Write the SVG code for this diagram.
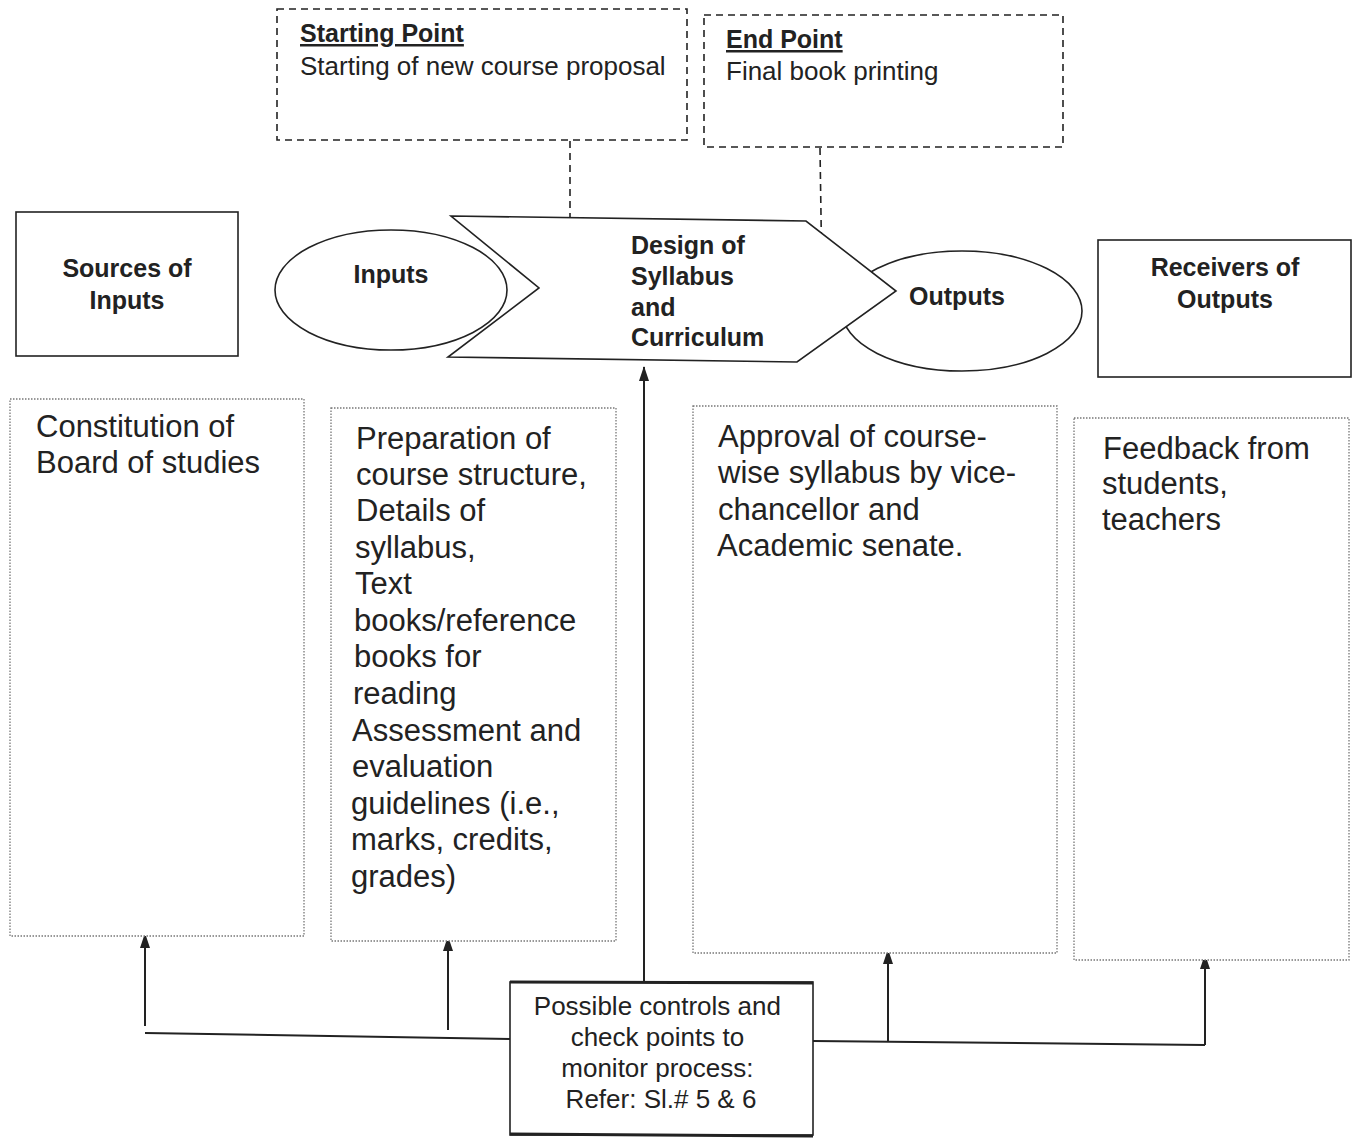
<svg xmlns="http://www.w3.org/2000/svg" width="1357" height="1138" viewBox="0 0 1357 1138">
<defs>
<style>
.dash{fill:none;stroke:#222;stroke-width:1.6;stroke-dasharray:7 5}
.dot{fill:#fff;stroke:#777;stroke-width:1.3;stroke-dasharray:1.5 1.5}
.solid{fill:#fff;stroke:#222;stroke-width:1.6}
.ln{fill:none;stroke:#222;stroke-width:2}
.arr{fill:none;stroke:#222;stroke-width:2;marker-end:url(#ah)}
.t{font-family:"Liberation Sans",Arial,sans-serif;fill:#222}
.b{font-weight:bold}
.big{font-size:31px}
.mid{font-size:25px}
.top{font-size:26px}
</style>
<marker id="ah" viewBox="0 0 15 10" refX="14" refY="5" markerWidth="15" markerHeight="10" orient="auto" markerUnits="userSpaceOnUse">
<path d="M0,0 L15,5 L0,10 z" fill="#222"/>
</marker>
</defs>
<rect width="1357" height="1138" fill="#fff"/>

<g id="connectors">
<line class="dash" x1="570" y1="141" x2="570" y2="272"/>
<line class="dash" x1="820" y1="148" x2="822" y2="282"/>
<line class="arr" x1="644" y1="982" x2="644" y2="367"/>
<polyline class="ln" points="145,1033 510,1039"/>
<polyline class="ln" points="813,1041 1205,1045"/>
<line class="arr" x1="145" y1="1026" x2="145" y2="934"/>
<line class="arr" x1="448" y1="1030" x2="448" y2="937"/>
<line class="arr" x1="888" y1="1042" x2="888" y2="950"/>
<line class="arr" x1="1205" y1="1045" x2="1205" y2="955"/>
</g>

<g id="start-point">
<rect class="dash" x="277" y="9" width="410" height="131"/>
<text class="t b mid" x="300" y="42" text-decoration="underline">Starting Point</text>
<text class="t top" x="300" y="75">Starting of new course proposal</text>
</g>

<g id="end-point">
<rect class="dash" x="704" y="15" width="359" height="132"/>
<text class="t b mid" x="726" y="48" text-decoration="underline">End Point</text>
<text class="t top" x="726" y="80">Final book printing</text>
</g>

<g id="sources-of-inputs">
<rect class="solid" x="16" y="212" width="222" height="144"/>
<text class="t b mid" x="127" y="277" text-anchor="middle">Sources of</text>
<text class="t b mid" x="127" y="309" text-anchor="middle">Inputs</text>
</g>

<g id="outputs">
<ellipse class="solid" cx="962" cy="311" rx="120" ry="60"/>
<text class="t b mid" x="957" y="305" text-anchor="middle">Outputs</text>
</g>

<g id="design">
<polygon class="solid" points="451,216 806,221 896,291 797,362 448,357 539,288"/>
<text class="t b mid" x="631" y="254">Design of</text>
<text class="t b mid" x="631" y="285">Syllabus</text>
<text class="t b mid" x="631" y="316">and</text>
<text class="t b mid" x="631" y="346">Curriculum</text>
</g>

<g id="inputs">
<ellipse cx="391" cy="290" rx="116" ry="60" fill="none" stroke="#222" stroke-width="1.6"/>
<text class="t b mid" x="391" y="283" text-anchor="middle">Inputs</text>
</g>

<g id="receivers-of-outputs">
<rect class="solid" x="1098" y="240" width="253" height="137"/>
<text class="t b mid" x="1225" y="276" text-anchor="middle">Receivers of</text>
<text class="t b mid" x="1225" y="308" text-anchor="middle">Outputs</text>
</g>

<g id="box-constitution">
<rect class="dot" x="10" y="399" width="294" height="537"/>
<text class="t big" x="36" y="437">Constitution of</text>
<text class="t big" x="36" y="473">Board of studies</text>
</g>

<g id="box-preparation">
<rect class="dot" x="331" y="408" width="285" height="533"/>
<text class="t big">
<tspan x="356" y="449">Preparation of</tspan>
<tspan x="356" y="485">course structure,</tspan>
<tspan x="356" y="521">Details of</tspan>
<tspan x="355" y="558">syllabus,</tspan>
<tspan x="355" y="594">Text</tspan>
<tspan x="354" y="631">books/reference</tspan>
<tspan x="354" y="667">books for</tspan>
<tspan x="353" y="704">reading</tspan>
<tspan x="352" y="741">Assessment and</tspan>
<tspan x="352" y="777">evaluation</tspan>
<tspan x="351" y="814">guidelines (i.e.,</tspan>
<tspan x="351" y="850">marks, credits,</tspan>
<tspan x="351" y="887">grades)</tspan>
</text>
</g>

<g id="box-approval">
<rect class="dot" x="693" y="406" width="364" height="547"/>
<text class="t big">
<tspan x="718" y="447">Approval of course-</tspan>
<tspan x="718" y="483">wise syllabus by vice-</tspan>
<tspan x="718" y="520">chancellor and</tspan>
<tspan x="717" y="556">Academic senate.</tspan>
</text>
</g>

<g id="box-feedback">
<rect class="dot" x="1074" y="418" width="275" height="542"/>
<text class="t big">
<tspan x="1103" y="459">Feedback from</tspan>
<tspan x="1102" y="494">students,</tspan>
<tspan x="1102" y="530">teachers</tspan>
</text>
</g>

<g id="controls">
<rect x="510" y="982" width="303" height="153" fill="#fff" stroke="#222" stroke-width="1.6"/>
<line x1="510" y1="982" x2="813" y2="983" stroke="#222" stroke-width="3"/>
<line x1="510" y1="1134" x2="813" y2="1136" stroke="#222" stroke-width="3"/>
<text class="t top" text-anchor="middle">
<tspan x="661" y="1015">Possible controls and</tspan>
<tspan x="661" y="1046">check points to</tspan>
<tspan x="661" y="1077">monitor process:</tspan>
<tspan x="661" y="1108">Refer: Sl.# 5 &amp; 6</tspan>
</text>
</g>
</svg>
